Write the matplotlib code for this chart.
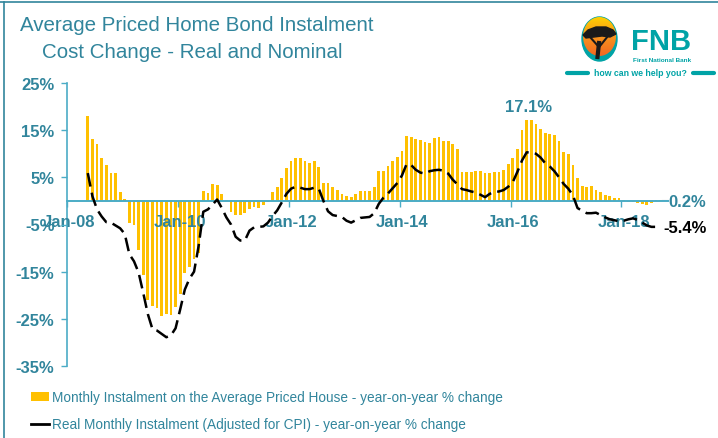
import matplotlib.pyplot as plt
import numpy as np
import pandas as pd
from matplotlib.colors import LinearSegmentedColormap
from matplotlib.lines import Line2D
from matplotlib.patches import Ellipse, Patch, Polygon

plt.rcParams["font.family"] = ["Liberation Sans", "DejaVu Sans"]

# monthly data, May 2008 - Sep 2018
months = pd.date_range("2008-05-01", "2018-09-01", freq="MS")

nominal = [
    18.0, 13.2, 12.0, 9.1, 7.7, 5.9, 6.0, 1.8,
    0.5, -4.7, -5.2, -10.4, -15.7, -21.0, -22.2, -22.6, -24.4, -24.0, -24.2, -22.4,
    -19.8, -15.2, -14.1, -12.4, -11.0, 2.2, 1.7, 3.6, 3.4, 1.4, 0.2, -2.3,
    -3.0, -3.0, -2.6, -1.8, -1.2, -1.5, -0.9, -0.3, 1.9, 3.0, 4.8, 7.0,
    8.4, 9.1, 9.0, 8.4, 8.1, 8.4, 7.2, 3.7, 3.7, 3.0, 2.3, 1.4,
    1.1, 0.9, 1.4, 2.1, 2.1, 2.1, 3.0, 6.4, 6.4, 7.4, 8.5, 9.4,
    10.6, 13.7, 13.5, 13.2, 12.9, 12.4, 12.3, 13.3, 13.5, 12.8, 12.6, 12.0,
    11.1, 6.2, 6.2, 6.1, 6.4, 6.4, 6.0, 6.0, 6.1, 6.2, 6.6, 7.8,
    9.2, 11.0, 15.1, 17.1, 17.1, 16.4, 15.3, 14.3, 14.1, 13.9, 12.7, 10.4,
    9.9, 7.7, 4.8, 3.2, 3.0, 3.2, 2.3, 1.9, 1.3, 1.1, 0.6, 0.7,
    0.2, -0.3, -0.3, -0.5, -0.7, -0.8, -0.5, 0.1, 0.2,
]

real = [
    5.9, 1.0, -1.8, -3.3, -4.5, -4.6, -5.2, -5.8,
    -7.0, -11.3, -12.8, -15.2, -19.5, -24.0, -27.2, -27.5, -28.2, -28.9, -28.5, -27.0,
    -23.0, -18.8, -16.5, -15.0, -9.5, -2.3, -1.8, -0.8, 0.3, -1.5, -3.5, -5.0,
    -7.6, -8.4, -8.4, -6.3, -5.6, -5.5, -5.4, -4.6, -3.2, -2.0, -0.3, 1.5,
    2.6, 3.0, 2.8, 2.5, 2.5, 2.8, 2.6, 0.0, -2.2, -3.0, -3.2, -3.4,
    -4.2, -4.6, -4.1, -3.6, -3.5, -3.4, -2.6, -0.6, 0.7, 1.6, 2.7, 3.8,
    5.4, 7.8, 7.6, 6.6, 6.0, 5.8, 6.3, 6.5, 6.6, 6.4, 5.8, 4.5,
    3.5, 2.5, 2.3, 2.0, 1.8, 1.3, 0.8, 1.5, 1.9, 2.0, 2.3, 3.0,
    4.0, 6.2, 8.6, 10.3, 10.3, 10.0, 9.2, 8.0, 7.3, 6.3, 5.0, 3.6,
    2.6, 1.2, -1.5, -2.1, -2.6, -2.6, -2.5, -3.0, -3.5, -3.9, -4.1, -4.3,
    -4.2, -3.9, -3.7, -4.0, -4.6, -5.2, -5.5, -5.5, -5.4,
]

x_tick_labels = ["Jan-08", "Jan-10", "Jan-12", "Jan-14", "Jan-16", "Jan-18"]
y_ticks = [25, 15, 5, -5, -15, -25, -35]

TEAL = "#31859C"
AXIS = "#4BACC6"
GOLD = "#FFC000"
FNB = "#00A3A6"

W, H = 718, 439
fig = plt.figure(figsize=(W / 100, H / 100), dpi=100)

# main chart
ax = fig.add_axes([67 / W, 1 - 367 / H, 600.6 / W, 283 / H])
ax.set_axisbelow(False)
x = np.asarray((months.year - 2008) * 12 + months.month - 1 + 0.5, dtype=float)
ax.bar(x, nominal, width=0.6, color=GOLD, zorder=2)
ax.plot(x, real, color="black", lw=1.8, dashes=(5.5, 2.5), zorder=3)

ax.set_xlim(0, 130)
ax.set_ylim(-35, 25)

for side in ["top", "right"]:
    ax.spines[side].set_visible(False)
ax.spines["left"].set_color(AXIS)
ax.spines["left"].set_linewidth(1.2)
ax.spines["bottom"].set_color(AXIS)
ax.spines["bottom"].set_linewidth(1.4)
ax.spines["bottom"].set_position(("data", 0))

ax.set_yticks(y_ticks)
ax.set_yticklabels([f"{v}%" for v in y_ticks])
ax.tick_params(axis="y", direction="out", length=4, width=1, color=AXIS,
               pad=5, labelsize=12, labelcolor=TEAL)
for t in ax.get_yticklabels():
    t.set_fontweight("bold")

major = np.arange(0, 121, 24)
ax.set_xticks(major)
ax.set_xticklabels([])
ax.set_xticks(major + 0.5, minor=True)
ax.set_xticklabels(x_tick_labels, minor=True)
ax.tick_params(axis="x", which="major", direction="out", length=4, width=1,
               color=AXIS)
ax.tick_params(axis="x", which="minor", length=0, pad=9.5, labelsize=12,
               labelcolor=TEAL)
for t in ax.get_xticklabels(minor=True):
    t.set_fontweight("bold")

# data labels: the 2016 peak and the latest values
recent = months >= "2014-01-01"
peak = int(np.flatnonzero(recent)[np.argmax(np.asarray(nominal)[recent])])
ax.text(x[peak] + 0.3, nominal[peak] + 3.0, f"{nominal[peak]:.1f}%",
        ha="center", va="center", fontsize=12, fontweight="bold", color=TEAL)
ax.plot([x[-1] + 0.3, x[-1] + 1.5], [nominal[-1], nominal[-1]],
        color="#A6A6A6", lw=0.8, clip_on=False)
ax.text(x[-1] + 1.6, nominal[-1] - 0.3, f"{nominal[-1]:.1f}%", ha="left",
        va="center", fontsize=12, fontweight="bold", color=TEAL)
ax.text(x[-1] + 0.6, real[-1] - 0.3, f"{real[-1]:.1f}%", ha="left",
        va="center", fontsize=12, fontweight="bold", color="black")

# legend
handles = [
    Patch(facecolor=GOLD, edgecolor="none"),
    Line2D([0], [0], color="black", lw=2),
]
labels = [
    "Monthly Instalment on the Average Priced House - year-on-year % change",
    "Real Monthly Instalment (Adjusted for CPI) - year-on-year % change",
]
fig.legend(handles, labels, loc="upper left", bbox_to_anchor=(26 / W, 1 - 386 / H),
           frameon=False, fontsize=9.8, labelcolor=TEAL, handlelength=1.3,
           handletextpad=0.2, labelspacing=0.95, borderaxespad=0)

# title
fig.text(197 / W, 1 - 31 / H, "Average Priced Home Bond Instalment",
         ha="center", va="baseline", fontsize=14.8, color=TEAL)
fig.text(192 / W, 1 - 58 / H, "Cost Change - Real and Nominal",
         ha="center", va="baseline", fontsize=14.8, color=TEAL)

# frame
fig.add_artist(Line2D([0, 1], [1 - 2.5 / H, 1 - 2.5 / H], color=TEAL, lw=1.2,
                      transform=fig.transFigure))
fig.add_artist(Line2D([4 / W, 4 / W], [0, 1 - 2.5 / H], color=TEAL, lw=1.2,
                      transform=fig.transFigure))

# FNB logo, drawn in pixel coordinates
lg = fig.add_axes([560 / W, 1 - 90 / H, 158 / W, 88 / H])
lg.set_xlim(560, 718)
lg.set_ylim(90, 2)
lg.axis("off")
lg.add_patch(Ellipse((599.5, 40), 35, 44, color=FNB))
sun = Ellipse((599.5, 37.5), 33, 39, color="none")
lg.add_patch(sun)
grad = np.linspace(0, 1, 100).reshape(-1, 1)
sun_cmap = LinearSegmentedColormap.from_list("sun", ["#FFD200", "#F7941D", "#F26522"])
img = lg.imshow(grad, extent=(582, 617, 58, 17), cmap=sun_cmap,
                aspect="auto", zorder=2)
img.set_clip_path(sun)
lg.add_patch(Polygon([(583, 36), (588, 31), (596, 28), (606, 28), (613, 31),
                      (616, 35), (610, 38), (602, 37), (594, 38), (586, 39)],
                     closed=True, color="#1A1A1A", zorder=3))
lg.plot([590, 598], [38, 47], color="#1A1A1A", lw=1.5, zorder=3)
lg.plot([608, 600], [37, 47], color="#1A1A1A", lw=1.5, zorder=3)
lg.plot([599, 597.5], [44, 58], color="#1A1A1A", lw=3, zorder=3)
lg.text(631, 50, "FNB", ha="left", va="baseline", fontsize=21,
        fontweight="bold", color=FNB)
lg.text(633, 62, "First National Bank", ha="left", va="baseline",
        fontsize=4.6, fontweight="bold", color=FNB)
lg.text(640.5, 73.5, "how can we help you?", ha="center", va="center",
        fontsize=6.3, fontweight="bold", color=FNB)
lg.plot([567, 588], [73.5, 73.5], color=FNB, lw=3, solid_capstyle="round")
lg.plot([693, 714], [73.5, 73.5], color=FNB, lw=3, solid_capstyle="round")

fig.savefig("out.png", dpi=100)
